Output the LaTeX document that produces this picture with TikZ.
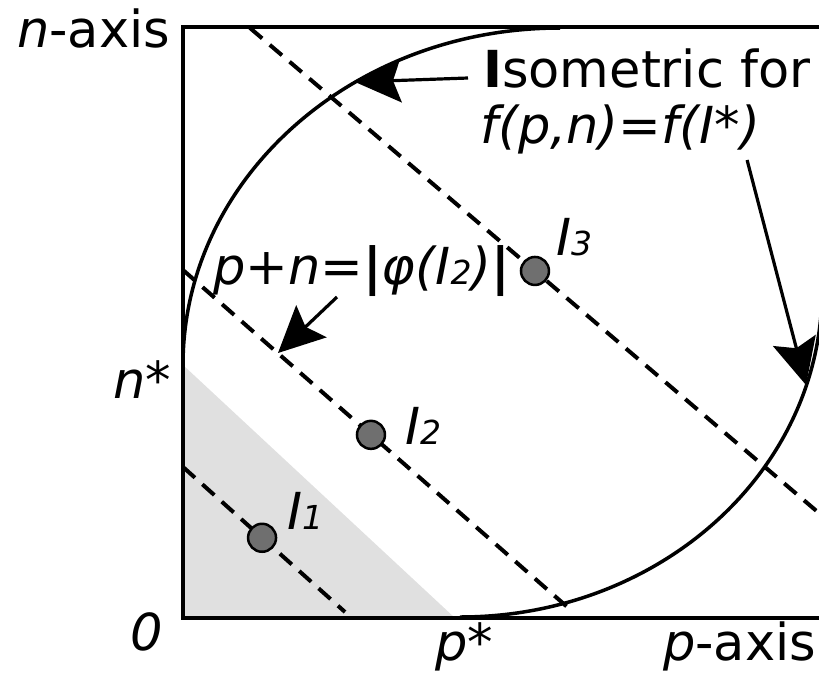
\documentclass[tikz,border=0pt]{standalone}
\usepackage{fontspec}
\setmainfont{DejaVu Sans}
\usetikzlibrary{arrows.meta, positioning, calc}
\definecolor{shadegray}{HTML}{E0E0E0}
\definecolor{dotgray}{HTML}{6F6F6F}
\newcommand{\lowsub}[1]{{\fontsize{33}{36}\selectfont\itshape #1}}
\tikzset{
  axisline/.style={line width=4.5pt, line join=miter},
  levelcurve/.style={line width=3.5pt},
  sumline/.style={dash pattern=on 16pt off 10pt, line width=4pt},
  pointer/.style={-{Stealth[length=46pt, width=44pt, inset=8pt]}, line width=3.2pt},
  dotnode/.style={circle, draw, solid, fill=dotgray, line width=2.5pt,
                  minimum size=28pt, inner sep=0pt},
  lbl/.style={inner sep=0pt, font=\fontsize{51}{60}\selectfont},
}

\begin{document}
\begin{tikzpicture}[x=1pt, y=-1pt]
  \useasboundingbox (0,0) rectangle (819,678);
  \clip (0,0) rectangle (819,678);

  % Region below n* and p*
  \fill[shadegray] (183,365) -- (183,618) -- (455,618) -- cycle;

  % Lines p+n = const
  \draw[sumline] (183,467) -- node[dotnode, pos=0.488] (I1) {} (345,612);
  \draw[sumline] (183,270) -- node[dotnode, pos=0.482] (I2) {} (573,612);
  \draw[sumline] (250,28) -- node[dotnode, pos=0.483] (I3) {} (840,531);

  % Isometric curve
  \draw[levelcurve] (183,365) .. controls (183,179) and (352,28) .. (560,28);
  \draw[levelcurve] (460,617) .. controls (660,617) and (822,471) .. (822,290);
  \coordinate (tipA) at (355,82);
  \coordinate (tipB) at (806,385);
  \coordinate (tipC) at (278,353);

  % Axes
  \draw[axisline] (840,27) -- (183,27) -- (183,618) -- (840,618);

  % Labels
  \node[lbl, anchor=base west] (naxis) at (17,47) {\textit{n}-axis};
  \node[lbl, anchor=base west] (nstar) at (113,398) {\textit{n}*};
  \node[lbl, anchor=base east] (zero) at (163,650) {\textit{0}};
  \node[lbl, anchor=base west] (pstar) at (435,660) {\textit{p}*};
  \node[lbl, anchor=base west] (paxis) at (663,660) {\textit{p}-axis};
  \node[lbl, anchor=base west] (iso1) at (483,87) {\textbf{I}sometric for};
  \node[lbl, anchor=base west] (iso2) at (480,143) {\textit{f(p,n)=f(I*)}};
  \node[lbl, anchor=base west] (sumlbl) at (213,284)
    {\textit{p}+\textit{n}=\textbf{|}\textit{φ(I\lowsub{2})}\textbf{|}};
  \node[lbl, anchor=base west] (I1lbl) at (287,529) {\textit{I\lowsub{1}}};
  \node[lbl, anchor=base west] (I2lbl) at (405,444) {\textit{I\lowsub{2}}};
  \node[lbl, anchor=base west] (I3lbl) at (556,255) {\textit{I\lowsub{3}}};

  % Arrows
  \draw[pointer] ($(iso1.base west)+(-15,-9)$) -- (tipA);
  \draw[pointer] ($(iso2.base east)+(-13,17)$) -- (tipB);
  \draw[pointer] ($(sumlbl.base west)+(124,13)$) -- (tipC);
\end{tikzpicture}
\end{document}
